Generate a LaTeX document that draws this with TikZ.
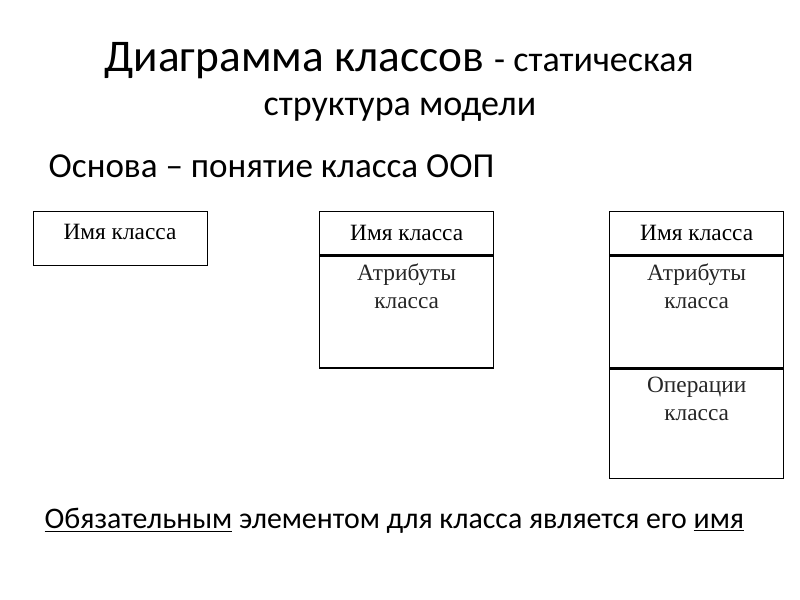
\documentclass[tikz,border=0pt]{standalone}
\usepackage{fontspec}
\setmainfont{Carlito}
\newfontfamily\boxfont{Liberation Serif}
\usetikzlibrary{positioning}
\tikzset{
  namebox/.style={rectangle, draw=black, line width=1pt, minimum width=174*0.75pt, minimum height=43*0.75pt, inner sep=0pt, font=\boxfont\fontsize{17.5}{21}\selectfont},
  partbox/.style={rectangle, draw=black, line width=1pt, minimum width=174*0.75pt, minimum height=112*0.75pt, inner sep=0pt},
  parttext/.style={align=center, font=\boxfont\fontsize{17.5}{21}\selectfont, text=black!85}
}
\begin{document}
\begin{tikzpicture}[x=0.75pt, y=-0.75pt]
    \useasboundingbox (0,0) rectangle (800,600);
    % Заголовок
    \node (title) at (399,61) {\fontsize{34}{40}\selectfont Диаграмма классов \fontsize{27}{32}\selectfont - статическая};
    \node (title2) at (400,110) {\fontsize{27}{32}\selectfont структура модели};
    \node (base) [anchor=west] at (44,166) {\fontsize{26.3}{30}\selectfont Основа -- понятие класса ООП};

    % Только имя
    \node (cls1) [namebox, minimum height=54*0.75pt, anchor=north west] at (33,211) {};
    \node (cls1name) at (120,232) [font=\boxfont\fontsize{17.5}{21}\selectfont] {Имя класса};

    % Имя и атрибуты
    \node (cls2) [namebox, anchor=north west] at (319,211) {Имя класса};
    \node (cls2attr) [partbox, anchor=north] at (cls2.south) {};
    \node [parttext, below=3pt of cls2attr.north] {Атрибуты\\класса};
    \draw [line width=1.6pt] (cls2.south west) -- (cls2.south east);

    % Имя, атрибуты и операции
    \node (cls3) [namebox, anchor=north west] at (609,211) {Имя класса};
    \node (cls3attr) [partbox, anchor=north] at (cls3.south) {};
    \node [parttext, below=3pt of cls3attr.north] {Атрибуты\\класса};
    \node (cls3oper) [partbox, minimum height=109*0.75pt, anchor=north] at (cls3attr.south) {};
    \node [parttext, below=3pt of cls3oper.north] {Операции\\класса};
    \draw [line width=1.6pt] (cls3.south west) -- (cls3.south east);

    \node (note) [anchor=west] at (40,521) {\fontsize{22.4}{27}\selectfont \underline{Обязательным} элементом для класса является его \underline{имя}};
\end{tikzpicture}
\end{document}
